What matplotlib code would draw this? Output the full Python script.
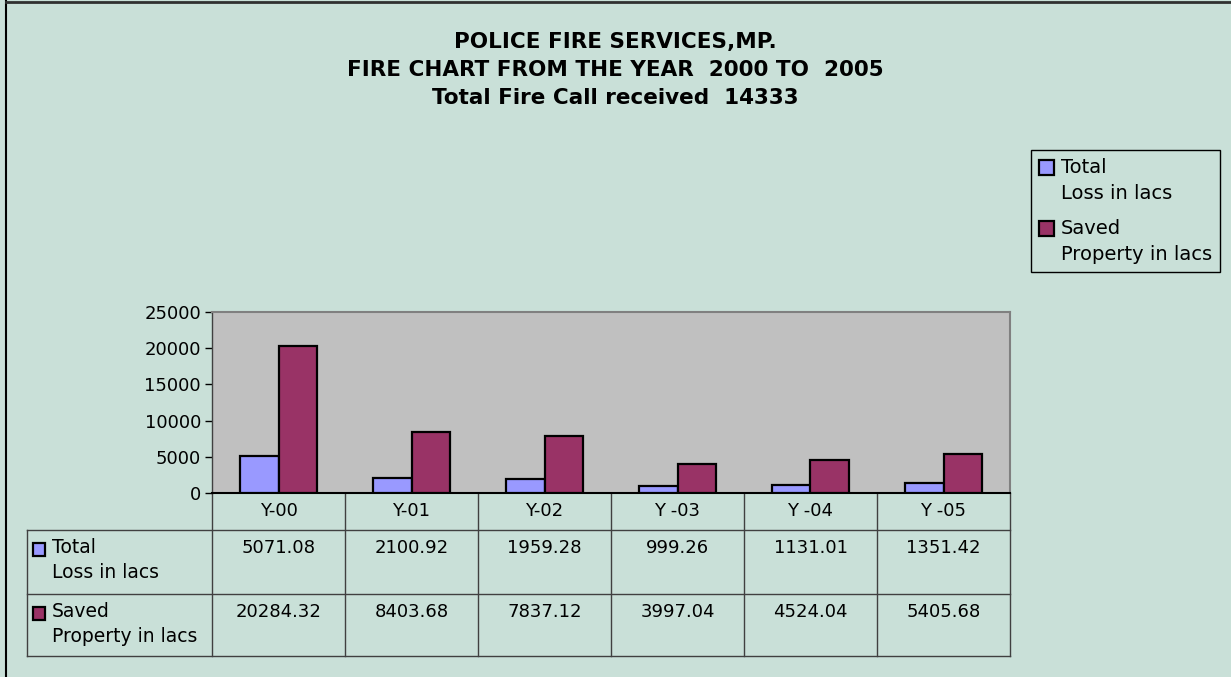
import matplotlib
matplotlib.use("Agg")
import matplotlib.pyplot as plt
from matplotlib.patches import Rectangle
from matplotlib.lines import Line2D
from matplotlib.container import BarContainer
from matplotlib.legend_handler import HandlerPatch, update_from_first_child
import numpy as np

plt.rcParams['font.family'] = ['DejaVu Sans']

# ---- data ----
categories = ["Y-00", "Y-01", "Y-02", "Y -03", "Y -04", "Y -05"]
loss_values = [5071.08, 2100.92, 1959.28, 999.26, 1131.01, 1351.42]
saved_values = [20284.32, 8403.68, 7837.12, 3997.04, 4524.04, 5405.68]
loss_label = "Total\nLoss in lacs"
saved_label = "Saved\nProperty in lacs"
title_lines = ["POLICE FIRE SERVICES,MP.",
               "FIRE CHART FROM THE YEAR  2000 TO  2005",
               "Total Fire Call received  14333"]
y_ticks = [0, 5000, 10000, 15000, 20000, 25000]

# ---- style ----
BG = '#C9E0D8'
PLOT_BG = '#C0C0C0'
C_LOSS = '#9999FF'
C_SAVED = '#993366'
W, H = 1231, 677

fig = plt.figure(figsize=(W / 100, H / 100), dpi=100, facecolor=BG)

# plot area in pixel coordinates
px0, px1, py_top, py_bot = 212, 1010, 312, 493
ax = fig.add_axes([px0 / W, 1 - py_bot / H, (px1 - px0) / W, (py_bot - py_top) / H])
ax.set_facecolor(PLOT_BG)

x = np.arange(len(categories))
bw = 0.29
ax.bar(x - bw / 2, loss_values, bw, color=C_LOSS, edgecolor='black', linewidth=1.6,
       label=loss_label, zorder=3)
ax.bar(x + bw / 2, saved_values, bw, color=C_SAVED, edgecolor='black', linewidth=1.6,
       label=saved_label, zorder=3)
ax.set_xlim(-0.5, len(categories) - 0.5)
ax.set_ylim(0, 25000)
ax.set_yticks(y_ticks)
ax.set_yticklabels([str(v) for v in y_ticks], fontsize=13)
ax.set_xticks([])
ax.tick_params(axis='y', direction='out', length=5, width=1, colors='black', pad=3)
for s in ['top', 'right']:
    ax.spines[s].set_color('#808080')
    ax.spines[s].set_linewidth(1.5)
ax.spines['left'].set_color('#404040')
ax.spines['left'].set_linewidth(1)
ax.spines['bottom'].set_color('black')
ax.spines['bottom'].set_linewidth(1.5)

# overlay axes in pixel coordinates for title, table, border
ov = fig.add_axes([0, 0, 1, 1], zorder=-1)
ov.set_xlim(0, W)
ov.set_ylim(H, 0)
ov.axis('off')

# outer border (left and top visible)
ov.add_line(Line2D([6, 6], [1, H], color='black', lw=1.5))
ov.add_line(Line2D([6, W], [1.5, 1.5], color='#303030', lw=2))

# title
for i, t in enumerate(title_lines):
    ov.text(W / 2, 42 + i * 28, t, ha='center', va='center', fontsize=15.5,
            fontweight='bold', color='black')

# data table
n = len(categories)
cw = (px1 - px0) / n
tcol = '#404040'
row_top = [530, 594]
row_bot = 656
hdr_top = py_bot
left_x = 27
for i in range(n + 1):
    xe = px0 + i * cw
    ov.add_line(Line2D([xe, xe], [hdr_top, row_bot], color=tcol, lw=1))
ov.add_line(Line2D([left_x, left_x], [row_top[0], row_bot], color=tcol, lw=1))
for yy in row_top + [row_bot]:
    ov.add_line(Line2D([left_x, px1], [yy, yy], color=tcol, lw=1))

for i, c in enumerate(categories):
    cx = px0 + (i + 0.5) * cw
    ov.text(cx, 511, c, ha='center', va='center', fontsize=13)
    ov.text(cx, 548, f"{loss_values[i]:.2f}", ha='center', va='center', fontsize=13)
    ov.text(cx, 612, f"{saved_values[i]:.2f}", ha='center', va='center', fontsize=13)

for j, (lab, col) in enumerate([(loss_label, C_LOSS), (saved_label, C_SAVED)]):
    top = row_top[j]
    ov.add_patch(Rectangle((33, top + 13), 12, 13, facecolor=col, edgecolor='black', lw=1.6))
    ov.text(52, top + 8, lab, ha='left', va='top', fontsize=13.5, linespacing=1.4)


# legend: marker aligned with the first line of each label
def top_square(legend, orig_handle, xdescent, ydescent, width, height, fontsize):
    return Rectangle((-xdescent, -ydescent + 0.7 * fontsize), width, height)


leg = fig.legend(loc='upper left', bbox_to_anchor=(1031 / W, 1 - 150 / H),
                 fontsize=14, frameon=True, fancybox=False, edgecolor='black',
                 facecolor=BG, framealpha=1, handlelength=0.8, handleheight=0.8,
                 handletextpad=0.35, labelspacing=0.85, borderpad=0.4, borderaxespad=0,
                 handler_map={BarContainer: HandlerPatch(patch_func=top_square,
                                                         update_func=update_from_first_child)})
leg.get_frame().set_linewidth(1)
for t in leg.get_texts():
    t.set_linespacing(1.45)
for h in leg.legend_handles:
    h.set_linewidth(1.6)

fig.savefig("out.png", dpi=100, facecolor=BG)
